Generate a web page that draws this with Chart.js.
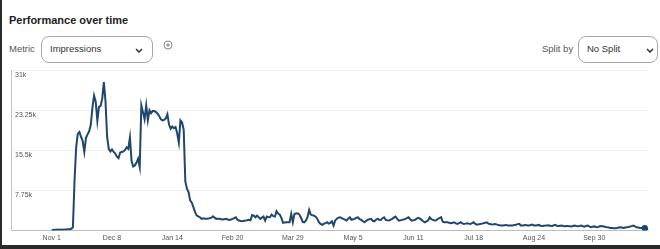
<!DOCTYPE html>
<html>
<head>
<meta charset="utf-8">
<script src="https://cdn.jsdelivr.net/npm/chart.js@4.4.0/dist/chart.umd.min.js"></script>
<style>
  html, body { margin: 0; padding: 0; background: #fff; }
  body { width: 660px; height: 249px; position: relative; overflow: hidden; font-family: "Liberation Sans", Arial, sans-serif; }
  .edge-left { position: absolute; left: 0; top: 0; width: 2px; height: 249px; background: #2a2a2a; z-index: 2; }
  .edge-bottom { position: absolute; left: 0; top: 245px; width: 660px; height: 4px; background: #2a2a2a; z-index: 2; }
  .title { position: absolute; left: 9px; top: 15px; font-size: 11px; line-height: 11px; font-weight: bold; color: #222; }
  .lbl { position: absolute; top: 44px; font-size: 9.5px; line-height: 10px; color: #555; }
  .select { position: absolute; top: 36px; height: 27px; box-sizing: border-box; border: 1px solid #a8a8a8; border-radius: 8px; }
  .select span { position: absolute; top: 7px; font-size: 9.5px; line-height: 10px; color: #333; }
  .select svg { position: absolute; top: 11px; }
  #chart { position: absolute; left: 0; top: 62px; }
</style>
</head>
<body>
<div class="edge-left"></div>
<div class="edge-bottom"></div>

<div class="title">Performance over time</div>

<div class="lbl" style="left:9px">Metric</div>
<div class="select" style="left:41px; width:112px">
  <span style="left:8px">Impressions</span>
  <svg style="left:93px" width="8" height="5" viewBox="0 0 8 5"><polyline points="1,1 4,4 7,1" fill="none" stroke="#333" stroke-width="1.5"/></svg>
</div>
<svg style="position:absolute; left:163px; top:40px" width="10" height="10" viewBox="0 0 10 10">
  <circle cx="5" cy="5" r="4" fill="none" stroke="#777" stroke-width="0.9"/>
  <line x1="5" y1="3" x2="5" y2="7" stroke="#777" stroke-width="0.9"/>
  <line x1="3" y1="5" x2="7" y2="5" stroke="#777" stroke-width="0.9"/>
</svg>

<div class="lbl" style="left:542px">Split by</div>
<div class="select" style="left:578px; width:80px">
  <span style="left:8px">No Split</span>
  <svg style="left:67px" width="8" height="5" viewBox="0 0 8 5"><polyline points="1,1 4,4 7,1" fill="none" stroke="#333" stroke-width="1.5"/></svg>
</div>

<canvas id="chart" width="660" height="183"></canvas>

<script>
// daily impressions, Nov 1 onwards (day 0 = Nov 1)
const impressions = [
    150, 120, 180, 150, 200, 160, 210, 180, 220, 200,
    240, 260, 350, 640, 9700, 16100, 18700, 19050, 18100, 17300,
    15200, 17900, 18600, 19200, 20500, 23800, 26100, 24900, 21200, 23900,
    24100, 25500, 28700, 25000, 18100, 15800, 15300, 15700, 15200, 14900,
    14300, 14000, 15100, 15200, 15300, 15600, 16100, 15800, 18000, 13500,
    12400, 12600, 13100, 13900, 12300, 24200, 22900, 21500, 24200, 21300,
    23250, 22700, 23100, 23100, 22900, 22600, 22100, 21500, 21300, 21400,
    21700, 22500, 20500, 19700, 20100, 19800, 20000, 18800, 17000, 21300,
    20900, 19500, 9500, 8100, 7400, 5800, 5400, 4500, 3550, 2900,
    2750, 2580, 2270, 2380, 2300, 2270, 2350, 2380, 2500, 2770,
    2500, 2270, 2300, 2270, 2200, 2130, 2200, 2270, 2150, 2070,
    2150, 2270, 2400, 2580, 2100, 1940, 1850, 1800, 1900, 1940,
    2000, 2070, 2000, 3000, 2900, 2580, 2900, 2600, 2270, 2500,
    2710, 1940, 2700, 2580, 2600, 3100, 2800, 2710, 3740, 3300,
    3100, 2400, 1490, 1550, 1610, 1600, 1610, 3230, 1610, 3230,
    3300, 3350, 3100, 2500, 1700, 1610, 1900, 2580, 4010, 3100,
    2950, 2900, 2700, 2300, 1610, 1300, 1100, 1300, 1450, 1610,
    1350, 1500, 1800, 970, 1940, 2300, 2500, 2580, 2400, 2270,
    2100, 1940, 2300, 2580, 2100, 2200, 2270, 2500, 2580, 2200,
    2070, 1800, 1610, 1900, 2070, 2200, 2270, 1900, 1800, 2100,
    2270, 2100, 2070, 2400, 2580, 2070, 2000, 1940, 2100, 2270,
    2500, 2710, 2300, 1940, 2000, 2070, 2150, 2270, 2400, 2580,
    2200, 1940, 2000, 2070, 2300, 2460, 2300, 2070, 1800, 1610,
    1800, 1940, 2580, 2200, 2070, 1940, 2000, 2270, 2400, 2580,
    1700, 1610, 1610, 1610, 1500, 1420, 1500, 1610, 1400, 1290,
    1450, 1610, 1400, 1290, 1350, 1420, 1350, 1290, 1450, 1610,
    1300, 1160, 1200, 1290, 1350, 1420, 1500, 1610, 1350, 1290,
    1160, 1200, 1290, 1200, 1100, 1050, 1000, 970, 1050, 1100,
    970, 970, 970, 1000, 1100, 1150, 1250, 1290, 1000, 970,
    1050, 1100, 1000, 970, 1100, 1160, 1000, 970, 1050, 1100,
    950, 900, 950, 970, 1000, 1030, 950, 900, 1000, 1100,
    950, 900, 950, 970, 900, 840, 870, 900, 820, 775,
    900, 970, 900, 840, 900, 970, 850, 775, 900, 970,
    800, 640, 750, 840, 700, 640, 800, 900, 850, 775,
    700, 640, 600, 520, 500, 450, 470, 520, 580, 640,
    580, 520, 580, 640, 700, 775, 870, 970, 800, 640,
    580, 520, 520, 520, 480, 330, 300
];
const markedDay = 364;  // highlighted point near the end

const xTickDays = [0, 37, 74, 111, 148, 185, 222, 259, 296, 333];
const xTickLabels = ['Nov 1', 'Dec 8', 'Jan 14', 'Feb 20', 'Mar 29', 'May 5', 'Jun 11', 'Jul 18', 'Aug 24', 'Sep 30'];
const yTickValues = [0, 7750, 15500, 23250, 31000];
const yTickLabels = ['', '7.75k', '15.5k', '23.25k', '31k'];

const lineColor = '#1f466d';
const tickFont = { family: '"Liberation Sans", Arial, sans-serif', size: 7 };

new Chart(document.getElementById('chart').getContext('2d'), {
    type: 'line',
    data: {
        datasets: [{
            label: 'Impressions',
            data: impressions.map((v, i) => ({ x: i, y: v })),
            borderColor: lineColor,
            backgroundColor: lineColor,
            borderWidth: 2,
            tension: 0,
            fill: false,
            pointRadius: impressions.map((v, i) => i === markedDay ? 3.2 : 0),
            pointHoverRadius: 0,
            pointBorderWidth: 0
        }]
    },
    options: {
        responsive: false,
        animation: false,
        devicePixelRatio: 1,
        layout: { padding: { left: 3, right: 12, top: 8, bottom: 0 } },
        plugins: { legend: { display: false }, tooltip: { enabled: false } },
        scales: {
            x: {
                type: 'linear',
                min: -25,
                max: 366,
                afterBuildTicks: s => { s.ticks = xTickDays.map(v => ({ value: v })); },
                grid: { display: false, drawTicks: false },
                border: { display: true, color: '#bdbdbd', width: 1 },
                ticks: {
                    autoSkip: false,
                    maxRotation: 0,
                    padding: 3,
                    color: '#555',
                    font: tickFont,
                    callback: v => xTickLabels[xTickDays.indexOf(v)] || ''
                }
            },
            y: {
                min: 0,
                max: 31000,
                afterBuildTicks: s => { s.ticks = yTickValues.map(v => ({ value: v })); },
                grid: { color: '#efefef', drawTicks: false },
                border: { display: true, color: '#c4c4c4', width: 1 },
                ticks: {
                    mirror: true,
                    padding: 4,
                    labelOffset: 5,
                    color: '#555',
                    font: tickFont,
                    callback: v => yTickLabels[yTickValues.indexOf(v)]
                }
            }
        }
    }
});
</script>
</body>
</html>
